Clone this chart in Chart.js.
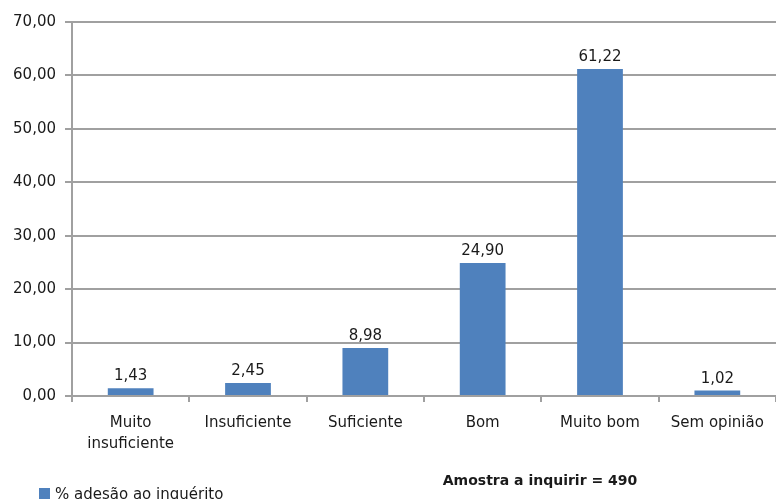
<!DOCTYPE html>
<html lang="pt">
<head>
<meta charset="utf-8">
<title>Adesão ao inquérito</title>
<script src="https://cdn.jsdelivr.net/npm/chart.js@4/dist/chart.umd.min.js"></script>
<style>
  html, body { margin: 0; padding: 0; background: #fff; }
  canvas { display: block; }
</style>
</head>
<body>
<canvas id="grafico" width="776" height="499"></canvas>
<script>
// --- dados ---
const categorias = [['Muito', 'insuficiente'], 'Insuficiente', 'Suficiente', 'Bom', 'Muito bom', 'Sem opinião'];
const adesao = [1.43, 2.45, 8.98, 24.90, 61.22, 1.02];
const nomeSerie = '% adesão ao inquérito';
const amostra = 490;
const yMax = 70;
const yPasso = 10;

const corBarra = '#4F81BD';
const corGrelha = '#a0a0a0';
const corTexto = '#1a1a1a';
const fonte = '"DejaVu Sans", Verdana, sans-serif';

// formato 0,00
function fmt(v) {
    return v.toFixed(2).replace('.', ',');
}

// valores por cima das barras
const rotulosBarras = {
    id: 'rotulosBarras',
    afterDatasetsDraw(chart) {
        const ctx = chart.ctx;
        const meta = chart.getDatasetMeta(0);
        ctx.save();
        ctx.font = '15px ' + fonte;
        ctx.fillStyle = corTexto;
        ctx.textAlign = 'center';
        ctx.textBaseline = 'alphabetic';
        meta.data.forEach((bar, i) => {
            ctx.fillText(fmt(chart.data.datasets[0].data[i]), bar.x, bar.y - 8);
        });
        ctx.restore();
    }
};

// legenda e nota da amostra, em baixo
const rodape = {
    id: 'rodape',
    afterDraw(chart) {
        const ctx = chart.ctx;
        const ds = chart.data.datasets[0];
        ctx.save();
        ctx.fillStyle = ds.backgroundColor;
        ctx.fillRect(39, 488, 11, 12);
        ctx.fillStyle = corTexto;
        ctx.font = '15px ' + fonte;
        ctx.textAlign = 'left';
        ctx.textBaseline = 'alphabetic';
        ctx.fillText(ds.label, 55, 499);

        ctx.font = 'bold 14px ' + fonte;
        ctx.textAlign = 'center';
        ctx.fillText('Amostra a inquirir = ' + amostra, 540, 485);
        ctx.restore();
    }
};

const ctx = document.getElementById('grafico').getContext('2d');
const grafico = new Chart(ctx, {
    type: 'bar',
    data: {
        labels: categorias,
        datasets: [{
            label: nomeSerie,
            data: adesao,
            backgroundColor: corBarra,
            borderWidth: 0,
            barPercentage: 0.78,
            categoryPercentage: 0.5
        }]
    },
    options: {
        responsive: false,
        animation: false,
        layout: { padding: { top: 22, left: 0, right: 0, bottom: 0 } },
        plugins: {
            legend: { display: false },
            tooltip: { enabled: false }
        },
        scales: {
            x: {
                grid: {
                    drawOnChartArea: false,
                    drawTicks: true,
                    tickLength: 6,
                    lineWidth: 2,
                    color: corGrelha
                },
                border: { color: corGrelha, width: 2 },
                ticks: {
                    color: corTexto,
                    font: { family: fonte, size: 15, lineHeight: 1.4 },
                    padding: 11,
                    maxRotation: 0,
                    autoSkip: false
                },
                afterFit(scale) { scale.height = 103; }
            },
            y: {
                min: 0,
                max: yMax,
                grid: {
                    color: corGrelha,
                    lineWidth: 2,
                    drawTicks: true,
                    tickLength: 7
                },
                border: { color: corGrelha, width: 2 },
                ticks: {
                    stepSize: yPasso,
                    color: corTexto,
                    font: { family: fonte, size: 15 },
                    padding: 9,
                    callback: v => fmt(v)
                },
                afterFit(scale) { scale.width = 72; }
            }
        }
    },
    plugins: [rotulosBarras, rodape]
});
</script>
</body>
</html>
